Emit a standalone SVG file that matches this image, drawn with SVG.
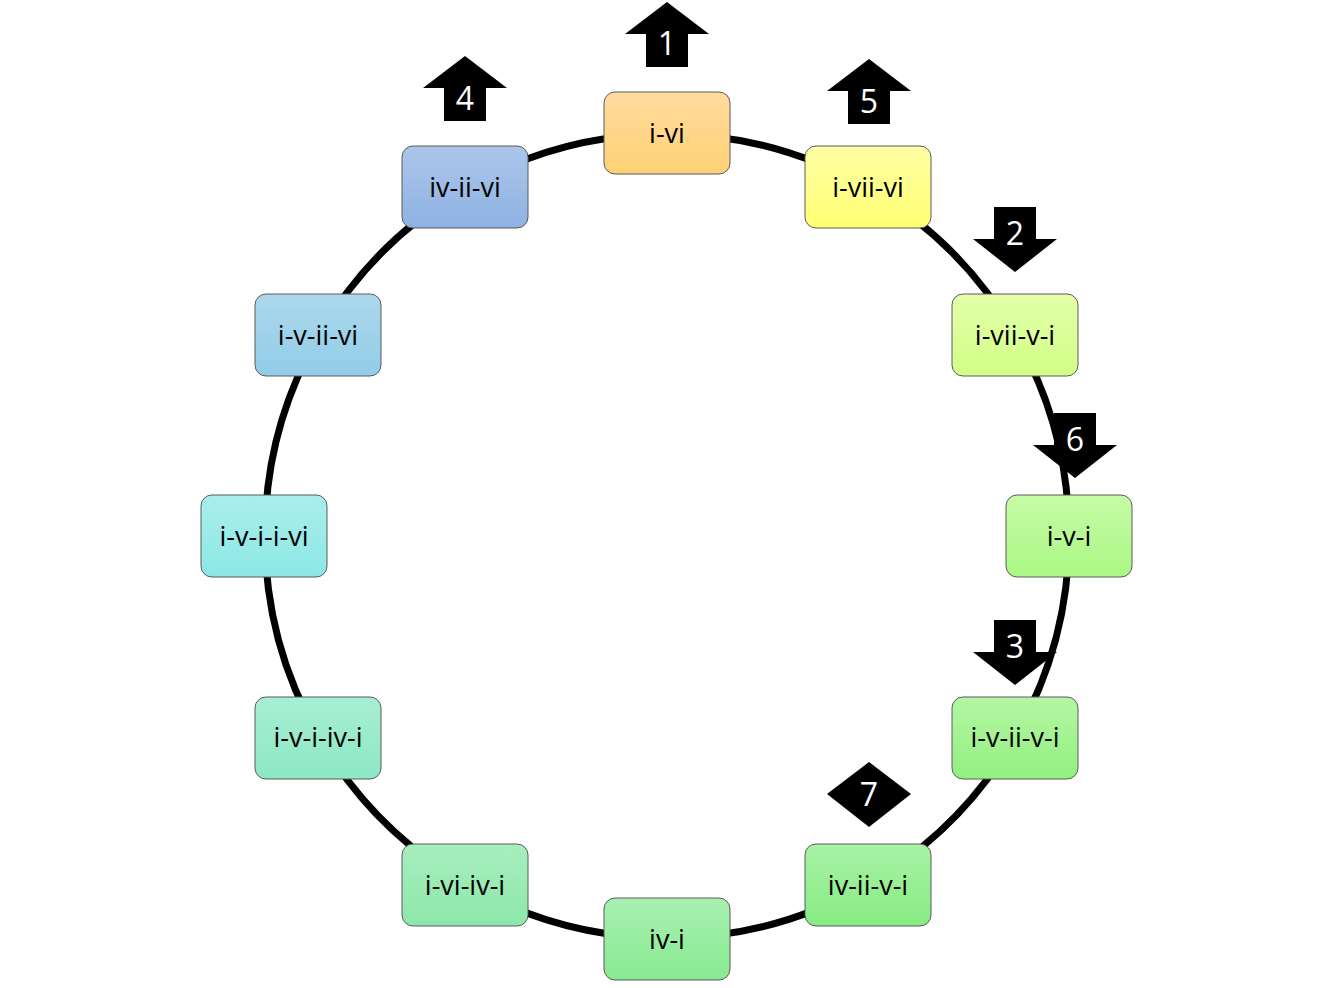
<svg xmlns="http://www.w3.org/2000/svg" xmlns:xlink="http://www.w3.org/1999/xlink" width="1334" height="988" viewBox="0 0 1334 988">
<style>
.node rect{stroke:#5a5a5a;stroke-width:1;}
.node text{font-family:"Open Sans","Liberation Sans",sans-serif;font-size:27px;fill:#000;text-anchor:middle;}
.arc{fill:none;stroke:#000;stroke-width:7;}
.badge{fill:#000;}
.num{font-family:"Open Sans","Liberation Sans",sans-serif;font-size:32px;fill:#fff;text-anchor:middle;}
</style>
<defs>
<linearGradient id="g0" x1="0" y1="0" x2="0" y2="1"><stop offset="0" stop-color="#ffdb9f"/><stop offset="1" stop-color="#ffd175"/></linearGradient>
<linearGradient id="g1" x1="0" y1="0" x2="0" y2="1"><stop offset="0" stop-color="#ffffa6"/><stop offset="1" stop-color="#ffff72"/></linearGradient>
<linearGradient id="g2" x1="0" y1="0" x2="0" y2="1"><stop offset="0" stop-color="#e4ffaa"/><stop offset="1" stop-color="#d2ff86"/></linearGradient>
<linearGradient id="g3" x1="0" y1="0" x2="0" y2="1"><stop offset="0" stop-color="#c6fba6"/><stop offset="1" stop-color="#aaf884"/></linearGradient>
<linearGradient id="g4" x1="0" y1="0" x2="0" y2="1"><stop offset="0" stop-color="#b4f6a4"/><stop offset="1" stop-color="#92f080"/></linearGradient>
<linearGradient id="g5" x1="0" y1="0" x2="0" y2="1"><stop offset="0" stop-color="#a8f2a6"/><stop offset="1" stop-color="#86ec82"/></linearGradient>
<linearGradient id="g6" x1="0" y1="0" x2="0" y2="1"><stop offset="0" stop-color="#a8f0b2"/><stop offset="1" stop-color="#88ea90"/></linearGradient>
<linearGradient id="g7" x1="0" y1="0" x2="0" y2="1"><stop offset="0" stop-color="#a8eebe"/><stop offset="1" stop-color="#8ce8aa"/></linearGradient>
<linearGradient id="g8" x1="0" y1="0" x2="0" y2="1"><stop offset="0" stop-color="#a8eed4"/><stop offset="1" stop-color="#8ce8c4"/></linearGradient>
<linearGradient id="g9" x1="0" y1="0" x2="0" y2="1"><stop offset="0" stop-color="#aaeeea"/><stop offset="1" stop-color="#8ce8e6"/></linearGradient>
<linearGradient id="g10" x1="0" y1="0" x2="0" y2="1"><stop offset="0" stop-color="#acd8ec"/><stop offset="1" stop-color="#92cce8"/></linearGradient>
<linearGradient id="g11" x1="0" y1="0" x2="0" y2="1"><stop offset="0" stop-color="#acc6ea"/><stop offset="1" stop-color="#8eb2e2"/></linearGradient>
<polygon id="up" points="0,0 42,32 21,32 21,65 -21,65 -21,32 -42,32"/>
<polygon id="down" points="-21,0 21,0 21,32 42,32 0,65 -42,32 -21,32"/>
</defs>
<rect width="1334" height="988" fill="#fff"/>
<g id="connectors">
<path class="arc" d="M667 134 A402 402 0 0 1 868 187.9"/>
<path class="arc" d="M868 187.9 A402 402 0 0 1 1015.1 335"/>
<path class="arc" d="M1015.1 335 A402 402 0 0 1 1069 536"/>
<path class="arc" d="M1069 536 A402 402 0 0 1 1015.1 737"/>
<path class="arc" d="M1015.1 737 A402 402 0 0 1 868 884.1"/>
<path class="arc" d="M868 884.1 A402 402 0 0 1 667 938"/>
<path class="arc" d="M667 938 A402 402 0 0 1 466 884.1"/>
<path class="arc" d="M466 884.1 A402 402 0 0 1 318.9 737"/>
<path class="arc" d="M318.9 737 A402 402 0 0 1 265 536"/>
<path class="arc" d="M265 536 A402 402 0 0 1 318.9 335"/>
<path class="arc" d="M318.9 335 A402 402 0 0 1 466 187.9"/>
<path class="arc" d="M466 187.9 A402 402 0 0 1 667 134"/>
</g>
<g id="n-i-vi" class="node"><rect x="604" y="92" width="126" height="82" rx="11" fill="url(#g0)"/><text x="667" y="143">i-vi</text></g>
<g id="n-i-vii-vi" class="node"><rect x="805" y="146" width="126" height="82" rx="11" fill="url(#g1)"/><text x="868" y="197">i-vii-vi</text></g>
<g id="n-i-vii-v-i" class="node"><rect x="952" y="294" width="126" height="82" rx="11" fill="url(#g2)"/><text x="1015" y="345">i-vii-v-i</text></g>
<g id="n-i-v-i" class="node"><rect x="1006" y="495" width="126" height="82" rx="11" fill="url(#g3)"/><text x="1069" y="546">i-v-i</text></g>
<g id="n-i-v-ii-v-i" class="node"><rect x="952" y="697" width="126" height="82" rx="11" fill="url(#g4)"/><text x="1015" y="747">i-v-ii-v-i</text></g>
<g id="n-iv-ii-v-i" class="node"><rect x="805" y="844" width="126" height="82" rx="11" fill="url(#g5)"/><text x="868" y="895">iv-ii-v-i</text></g>
<g id="n-iv-i" class="node"><rect x="604" y="898" width="126" height="82" rx="11" fill="url(#g6)"/><text x="667" y="949">iv-i</text></g>
<g id="n-i-vi-iv-i" class="node"><rect x="402" y="844" width="126" height="82" rx="11" fill="url(#g7)"/><text x="465" y="895">i-vi-iv-i</text></g>
<g id="n-i-v-i-iv-i" class="node"><rect x="255" y="697" width="126" height="82" rx="11" fill="url(#g8)"/><text x="318" y="747">i-v-i-iv-i</text></g>
<g id="n-i-v-i-i-vi" class="node"><rect x="201" y="495" width="126" height="82" rx="11" fill="url(#g9)"/><text x="264" y="546">i-v-i-i-vi</text></g>
<g id="n-i-v-ii-vi" class="node"><rect x="255" y="294" width="126" height="82" rx="11" fill="url(#g10)"/><text x="318" y="345">i-v-ii-vi</text></g>
<g id="n-iv-ii-vi" class="node"><rect x="402" y="146" width="126" height="82" rx="11" fill="url(#g11)"/><text x="465" y="197">iv-ii-vi</text></g>
<g id="b1"><use href="#up" class="badge" x="667" y="2"/><text class="num" x="667" y="55">1</text></g>
<g id="b2"><use href="#down" class="badge" x="1015" y="207"/><text class="num" x="1015" y="245">2</text></g>
<g id="b3"><use href="#down" class="badge" x="1015" y="620"/><text class="num" x="1015" y="658">3</text></g>
<g id="b4"><use href="#up" class="badge" x="465" y="56"/><text class="num" x="465" y="110">4</text></g>
<g id="b5"><use href="#up" class="badge" x="869" y="59"/><text class="num" x="869" y="113">5</text></g>
<g id="b6"><use href="#down" class="badge" x="1075" y="413"/><text class="num" x="1075" y="451">6</text></g>
<g id="b7"><polygon class="badge" points="827,794 869,762 911,794 869,827"/><text class="num" x="869" y="806">7</text></g>
</svg>
